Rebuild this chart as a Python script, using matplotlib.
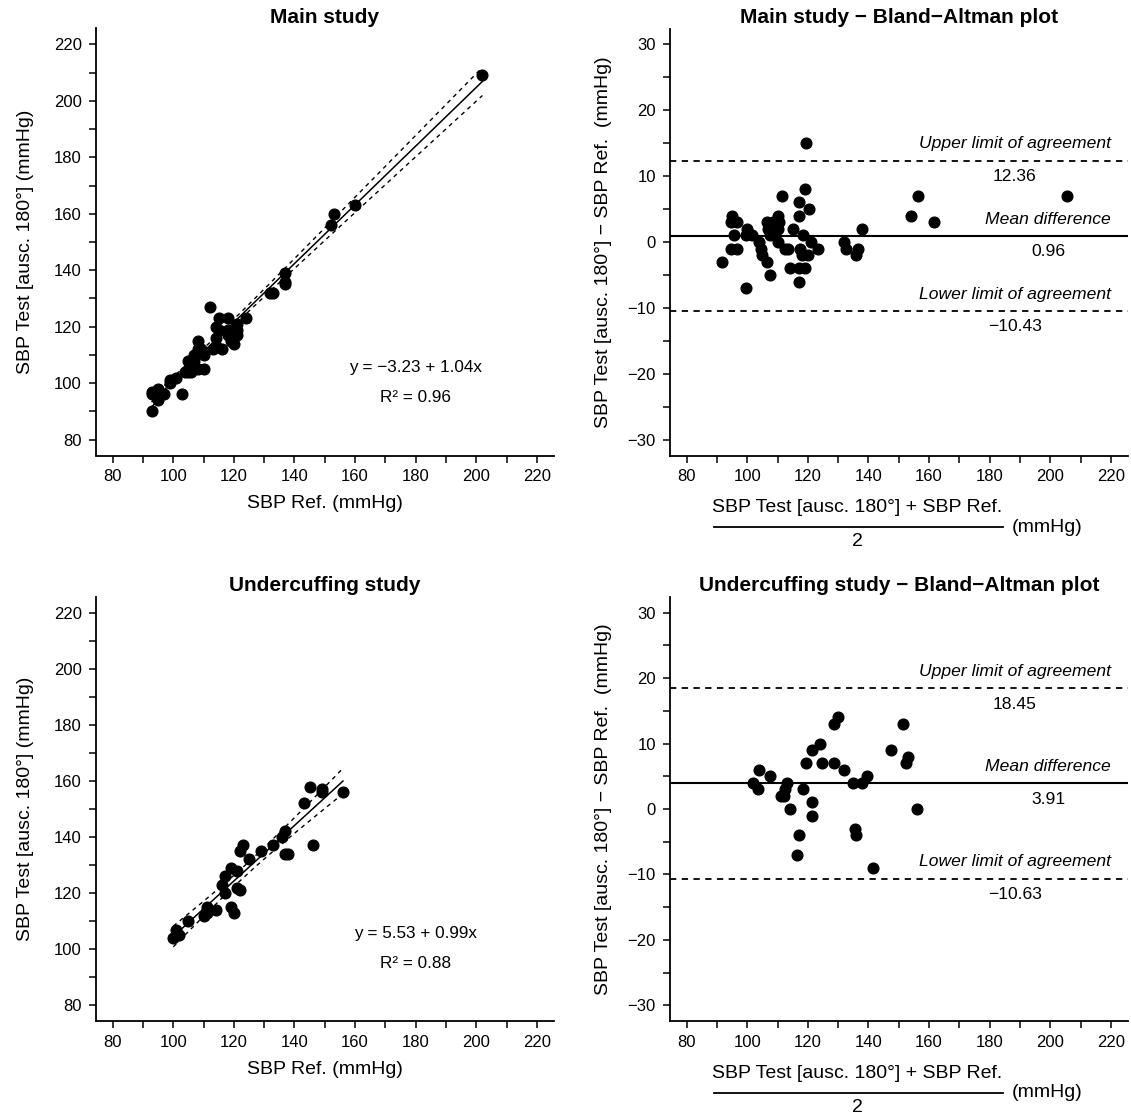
import numpy as np
import matplotlib.pyplot as plt
from matplotlib.transforms import offset_copy

plt.rcParams['font.family'] = ['Liberation Sans', 'DejaVu Sans']
plt.rcParams['font.size'] = 12

# main study, SBP (mmHg)
main_ref = [112, 115, 108, 153, 114, 118, 93, 115, 152, 108, 93, 95, 105, 107, 109, 160,
            99, 106, 109, 114, 137, 95, 99, 101, 107, 118, 104, 110, 121, 132, 95, 97,
            105, 113, 114, 118, 124, 133, 137, 106, 119, 121, 137, 108, 93, 116, 119, 121,
            110, 120, 103, 202]
main_test = [127, 123, 115, 160, 120, 123, 97, 119, 156, 112, 96, 98, 108, 110, 112, 163,
             101, 108, 111, 116, 139, 96, 100, 102, 108, 119, 104, 110, 121, 132, 94, 96,
             104, 112, 113, 117, 123, 132, 136, 104, 117, 119, 135, 105, 90, 112, 115, 117,
             105, 114, 96, 209]
main_coef = (-3.23, 1.04)
main_r2 = 0.96
main_mean = 0.96
main_loa = (-10.43, 12.36)

# undercuffing study
under_ref = [123, 122, 145, 119, 117, 143, 149, 149, 116, 121, 125, 129, 101, 105, 137, 100,
             111, 133, 136, 102, 111, 111, 117, 110, 121, 114, 156, 122, 137, 138, 119, 120, 146]
under_test = [137, 135, 158, 129, 126, 152, 157, 156, 123, 128, 132, 135, 107, 110, 142, 104,
              115, 137, 140, 105, 114, 113, 120, 112, 122, 114, 156, 121, 134, 134, 115, 113, 137]
under_coef = (5.53, 0.99)
under_r2 = 0.88
under_mean = 3.91
under_loa = (-10.63, 18.45)

W, H = 1131, 1117
fig = plt.figure(figsize=(W / 100, H / 100), dpi=100)

col_left = [95.7, 669.7]
col_w = 458.2
rows = [(28.5, 455.5), (597.0, 1021.0)]


def make_ax(col, row):
    top, bot = rows[row]
    ax = fig.add_axes([col_left[col] / W, 1 - bot / H, col_w / W, (bot - top) / H])
    for s in ['top', 'right']:
        ax.spines[s].set_visible(False)
    for s in ['left', 'bottom']:
        ax.spines[s].set_linewidth(1.3)
    ax.tick_params(which='both', direction='out', length=5, width=1.1, pad=5, labelsize=12)
    ax.set_xlim(74.4, 225.6)
    ax.set_xticks(np.arange(80, 221, 20))
    ax.set_xticks(np.arange(90, 211, 20), minor=True)
    return ax


def scatter_panel(ax, ref, test, coef, r2, title):
    ref = np.array(ref, float)
    test = np.array(test, float)
    ax.set_ylim(74.4, 225.6)
    ax.set_yticks(np.arange(80, 221, 20))
    ax.set_yticks(np.arange(90, 211, 20), minor=True)
    ax.plot(ref, test, 'o', color='black', ms=7.7, mec='black')
    a, b = coef
    xs = np.linspace(ref.min(), ref.max(), 100)
    fit = a + b * xs
    res = test - (a + b * ref)
    n = len(ref)
    s = np.sqrt(np.sum(res ** 2) / (n - 2))
    sxx = np.sum((ref - ref.mean()) ** 2)
    se = s * np.sqrt(1 / n + (xs - ref.mean()) ** 2 / sxx)
    ax.plot(xs, fit, color='black', lw=1.1)
    ax.plot(xs, fit + 2.0 * se, color='black', lw=1.0, ls=(0, (3, 3)))
    ax.plot(xs, fit - 2.0 * se, color='black', lw=1.0, ls=(0, (3, 3)))
    sign = '\u2212' if a < 0 else ''
    ax.text(0.699, 0.207, 'y = %s%.2f + %.2fx' % (sign, abs(a), b), transform=ax.transAxes,
            ha='center', va='center', fontsize=12.3)
    ax.text(0.699, 0.135, 'R\u00b2 = %.2f' % r2, transform=ax.transAxes,
            ha='center', va='center', fontsize=12.3)
    ax.set_xlabel('SBP Ref. (mmHg)', fontsize=14, labelpad=8)
    ax.set_ylabel('SBP Test [ausc. 180\u00b0] (mmHg)', fontsize=14)
    ax.yaxis.set_label_coords(-0.135, 0.5)
    ax.set_title(title, fontsize=15, fontweight='bold', pad=4)


def ba_panel(ax, ref, test, mean_d, loa, title):
    ref = np.array(ref, float)
    test = np.array(test, float)
    avg = (ref + test) / 2
    diff = test - ref
    ax.set_ylim(-32.4, 32.4)
    ax.set_yticks(np.arange(-30, 31, 10))
    ax.set_yticks(np.arange(-25, 26, 10), minor=True)
    ax.plot(avg, diff, 'o', color='black', ms=7.7, mec='black')
    ax.axhline(mean_d, color='black', lw=1.5)
    ax.axhline(loa[1], color='black', lw=1.3, ls=(0, (3.5, 3)))
    ax.axhline(loa[0], color='black', lw=1.3, ls=(0, (3.5, 3)))
    items = [('Upper limit of agreement', loa[1]), ('Mean difference', mean_d),
             ('Lower limit of agreement', loa[0])]
    for lab, val in items:
        t = ax.annotate(lab, xy=(220, val), xytext=(0, 12), textcoords='offset points',
                        ha='right', va='center', style='italic', fontsize=12.6)
        num = ('%.2f' % val).replace('-', '\u2212')
        ax.annotate(num, xy=(0.5, val), xycoords=(t, 'data'), xytext=(0, -11.5),
                    textcoords='offset points', ha='center', va='center', fontsize=12.6)
    ax.set_ylabel('SBP Test [ausc. 180\u00b0] \u2212 SBP Ref.  (mmHg)', fontsize=14)
    ax.yaxis.set_label_coords(-0.125, 0.5)
    ax.set_title(title, fontsize=15, fontweight='bold', pad=4)
    # fraction style x label
    tr_num = offset_copy(ax.transAxes, fig=fig, x=0, y=-37.8, units='points')
    tr_bar = offset_copy(ax.transAxes, fig=fig, x=0, y=-51.5, units='points')
    tr_den = offset_copy(ax.transAxes, fig=fig, x=0, y=-62.0, units='points')
    ax.text(0.409, 0, 'SBP Test [ausc. 180\u00b0] + SBP Ref.', transform=tr_num,
            ha='center', va='center', fontsize=14, clip_on=False)
    ax.plot([0.0967, 0.727], [0, 0], color='black', lw=1.3, transform=tr_bar, clip_on=False)
    ax.text(0.410, 0, '2', transform=tr_den, ha='center', va='center', fontsize=14,
            clip_on=False)
    ax.text(0.823, 0, '(mmHg)', transform=tr_bar, ha='center', va='center', fontsize=14,
            clip_on=False)


ax1 = make_ax(0, 0)
scatter_panel(ax1, main_ref, main_test, main_coef, main_r2, 'Main study')
ax2 = make_ax(1, 0)
ba_panel(ax2, main_ref, main_test, main_mean, main_loa,
         'Main study \u2212 Bland\u2212Altman plot')
ax3 = make_ax(0, 1)
scatter_panel(ax3, under_ref, under_test, under_coef, under_r2, 'Undercuffing study')
ax4 = make_ax(1, 1)
ba_panel(ax4, under_ref, under_test, under_mean, under_loa,
         'Undercuffing study \u2212 Bland\u2212Altman plot')

fig.savefig('out.png', dpi=100)
